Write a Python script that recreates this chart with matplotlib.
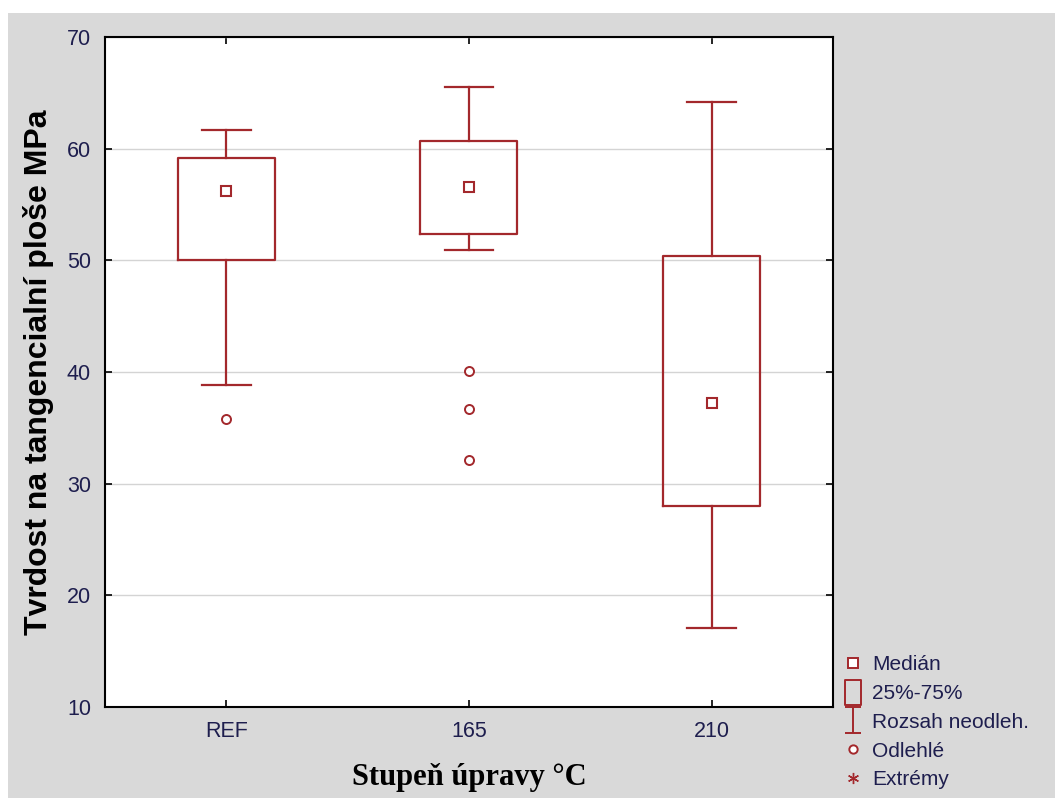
"""Box plot: Tvrdost na tangenciální ploše podle stupně úpravy."""

import matplotlib
import matplotlib.pyplot as plt
from matplotlib.lines import Line2D
from matplotlib.patches import Rectangle
from matplotlib.path import Path

matplotlib.use("Agg")

# data
CATEGORIES = ["REF", "165", "210"]
MEDIANS = [56.2, 56.6, 37.2]
Q1 = [50.0, 52.4, 28.0]
Q3 = [59.2, 60.7, 50.4]
WHISK_LO = [38.8, 50.9, 17.1]
WHISK_HI = [61.7, 65.5, 64.2]
OUTLIERS = [[35.8], [40.1, 36.7, 32.1], []]

Y_TICKS = [10, 20, 30, 40, 50, 60, 70]
LEGEND_LABELS = ["Medián", "25%-75%", "Rozsah neodleh.", "Odlehlé", "Extrémy"]

RED = "#a3282c"
TEXT = "#1e1e4e"
BG = "#d9d9d9"


def main() -> None:
    fig = plt.figure(figsize=(10.55, 7.98), dpi=100)
    fig.patch.set_facecolor("white")
    fig.patches.append(
        Rectangle((8 / 1055, 0), 1, 1 - 13 / 798, transform=fig.transFigure,
                  facecolor=BG, edgecolor="none", zorder=-10)
    )

    ax = fig.add_axes([0.0995, 0.114, 0.690, 0.8396])
    ax.set_facecolor("white")

    positions = list(range(len(CATEGORIES)))
    stats = []
    for i, cat in enumerate(CATEGORIES):
        stats.append({
            "label": cat,
            "med": MEDIANS[i],
            "q1": Q1[i],
            "q3": Q3[i],
            "whislo": WHISK_LO[i],
            "whishi": WHISK_HI[i],
            "fliers": OUTLIERS[i],
        })

    line = dict(color=RED, linewidth=1.6)
    ax.bxp(
        stats, positions=positions, widths=0.4, capwidths=0.2,
        boxprops=line, whiskerprops=line, capprops=line,
        medianprops=dict(visible=False),
        flierprops=dict(marker="o", markersize=6.5, markerfacecolor="white",
                        markeredgecolor=RED, markeredgewidth=1.4, linestyle="none"),
        zorder=3,
    )
    ax.plot(positions, MEDIANS, linestyle="none", marker="s", markersize=7,
            markerfacecolor="white", markeredgecolor=RED, markeredgewidth=1.5, zorder=4)

    ax.set_xlim(-0.5, 2.5)
    ax.set_ylim(10, 70)
    ax.set_yticks(Y_TICKS)
    ax.set_xticks(positions)
    ax.set_xticklabels(CATEGORIES)
    ax.grid(axis="y", color="#d4d4d4", linewidth=1.0, zorder=0)
    ax.set_axisbelow(True)
    ax.tick_params(direction="in", length=5, width=1.2, colors="black",
                   labelcolor=TEXT, labelsize=15.5, top=True, right=True, pad=10)
    for lbl in ax.get_xticklabels() + ax.get_yticklabels():
        lbl.set_family("Liberation Sans")
    for sp in ax.spines.values():
        sp.set_linewidth(1.5)

    ax.set_ylabel("Tvrdost na tangencialní ploše MPa", family="Liberation Sans",
                  fontweight="bold", fontsize=23, color="black", labelpad=9)
    ax.set_xlabel("Stupeň úpravy °C", family="Liberation Serif",
                  fontweight="bold", fontsize=22, color="black", labelpad=15)

    # legend glyphs
    box_path = Path([(-0.32, -0.5), (0.32, -0.5), (0.32, 0.5), (-0.32, 0.5), (-0.32, -0.5)],
                    [Path.MOVETO, Path.LINETO, Path.LINETO, Path.LINETO, Path.CLOSEPOLY])
    whisk_path = Path([(-0.29, 0.5), (0.29, 0.5), (0, 0.5), (0, -0.5), (-0.29, -0.5), (0.29, -0.5)],
                      [Path.MOVETO, Path.LINETO, Path.MOVETO, Path.LINETO,
                       Path.MOVETO, Path.LINETO])
    handles = [
        Line2D([], [], linestyle="none", marker="s", markersize=6.5,
               markerfacecolor="white", markeredgecolor=RED, markeredgewidth=1.4),
        Line2D([], [], linestyle="none", marker=box_path, markersize=18,
               markerfacecolor="none", markeredgecolor=RED, markeredgewidth=1.4),
        Line2D([], [], linestyle="none", marker=whisk_path, markersize=19,
               markerfacecolor="none", markeredgecolor=RED, markeredgewidth=1.4),
        Line2D([], [], linestyle="none", marker="o", markersize=6,
               markerfacecolor="white", markeredgecolor=RED, markeredgewidth=1.4),
        Line2D([], [], linestyle="none", marker=(6, 2, 0), markersize=8,
               markeredgecolor=RED, markeredgewidth=1.0),
    ]
    leg = fig.legend(handles, LEGEND_LABELS, loc="upper left",
                     bbox_to_anchor=(0.799, 0.179), frameon=False,
                     prop={"family": "Liberation Sans", "size": 15},
                     handlelength=1.0, handletextpad=0.4, labelspacing=0.47,
                     borderpad=0, borderaxespad=0)
    for t in leg.get_texts():
        t.set_color(TEXT)

    fig.savefig("out.png", dpi=100)
    plt.close(fig)


if __name__ == "__main__":
    main()
